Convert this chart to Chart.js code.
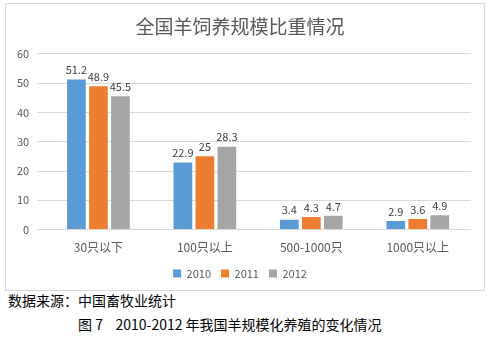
<!DOCTYPE html>
<html>
<head>
<meta charset="utf-8">
<script src="https://cdn.jsdelivr.net/npm/chart.js@4.4.1/dist/chart.umd.min.js"></script>
<style>
  body { margin: 0; background: #fff; width: 491px; height: 337px; position: relative; overflow: hidden; }
  #box { position: absolute; left: 5px; top: 3px; width: 478px; height: 286px; border: 1px solid #d9d9d9; }
  .note { position: absolute; font-family: "Noto Sans CJK SC", sans-serif; font-size: 14px; color: #000; white-space: pre; }
</style>
</head>
<body>
<div id="box"><canvas id="myChart" width="478" height="286"></canvas></div>
<div class="note" style="left:8px; top:290px;">数据来源：中国畜牧业统计</div>
<div class="note" style="left:78px; top:314px;">图 7    2010-2012 年我国羊规模化养殖的变化情况</div>
<script>
const categories = ['30只以下', '100只以上', '500-1000只', '1000只以上'];
const years = ['2010', '2011', '2012'];
const values2010 = [51.2, 22.9, 3.4, 2.9];
const values2011 = [48.9, 25, 4.3, 3.6];
const values2012 = [45.5, 28.3, 4.7, 4.9];
const colors = ['#5b9bd5', '#ed7d31', '#a5a5a5'];

const fontFamily = '"Noto Sans CJK SC", "Liberation Sans", sans-serif';

// value labels above each bar
const barLabels = {
  id: 'barLabels',
  afterDatasetsDraw(chart) {
    const ctx = chart.ctx;
    ctx.save();
    ctx.font = '11px ' + fontFamily;
    ctx.fillStyle = '#404040';
    ctx.textAlign = 'center';
    ctx.textBaseline = 'bottom';
    chart.data.datasets.forEach((ds, i) => {
      chart.getDatasetMeta(i).data.forEach((bar, j) => {
        ctx.fillText(ds.data[j], bar.x, bar.y - 4);
      });
    });
    ctx.restore();
  }
};

const canvasElement = document.getElementById('myChart');
const ctx = canvasElement.getContext('2d');

const myChart = new Chart(ctx, {
  type: 'bar',
  data: {
    labels: categories,
    datasets: [values2010, values2011, values2012].map((data, i) => ({
      label: years[i],
      data: data,
      backgroundColor: colors[i],
      barPercentage: 0.85,
      categoryPercentage: 0.62
    }))
  },
  options: {
    responsive: false,
    animation: false,
    layout: { padding: { left: 3, right: 13, top: 4, bottom: 1 } },
    plugins: {
      title: {
        display: true,
        text: '全国羊饲养规模比重情况',
        color: '#595959',
        font: { family: fontFamily, size: 19, weight: 'normal' },
        padding: { top: 7, bottom: 16 }
      },
      legend: {
        position: 'bottom',
        labels: {
          boxWidth: 8,
          boxHeight: 8,
          padding: 10,
          color: '#595959',
          font: { family: fontFamily, size: 11 }
        }
      },
      tooltip: { enabled: false }
    },
    scales: {
      x: {
        grid: { display: false },
        border: { display: false },
        ticks: { color: '#595959', font: { family: fontFamily, size: 12 }, padding: 3 }
      },
      y: {
        min: 0,
        max: 60,
        ticks: { stepSize: 10, color: '#595959', font: { family: fontFamily, size: 11 }, padding: 8 },
        grid: { color: '#d9d9d9' },
        border: { display: false }
      }
    }
  },
  plugins: [barLabels]
});
</script>
</body>
</html>
